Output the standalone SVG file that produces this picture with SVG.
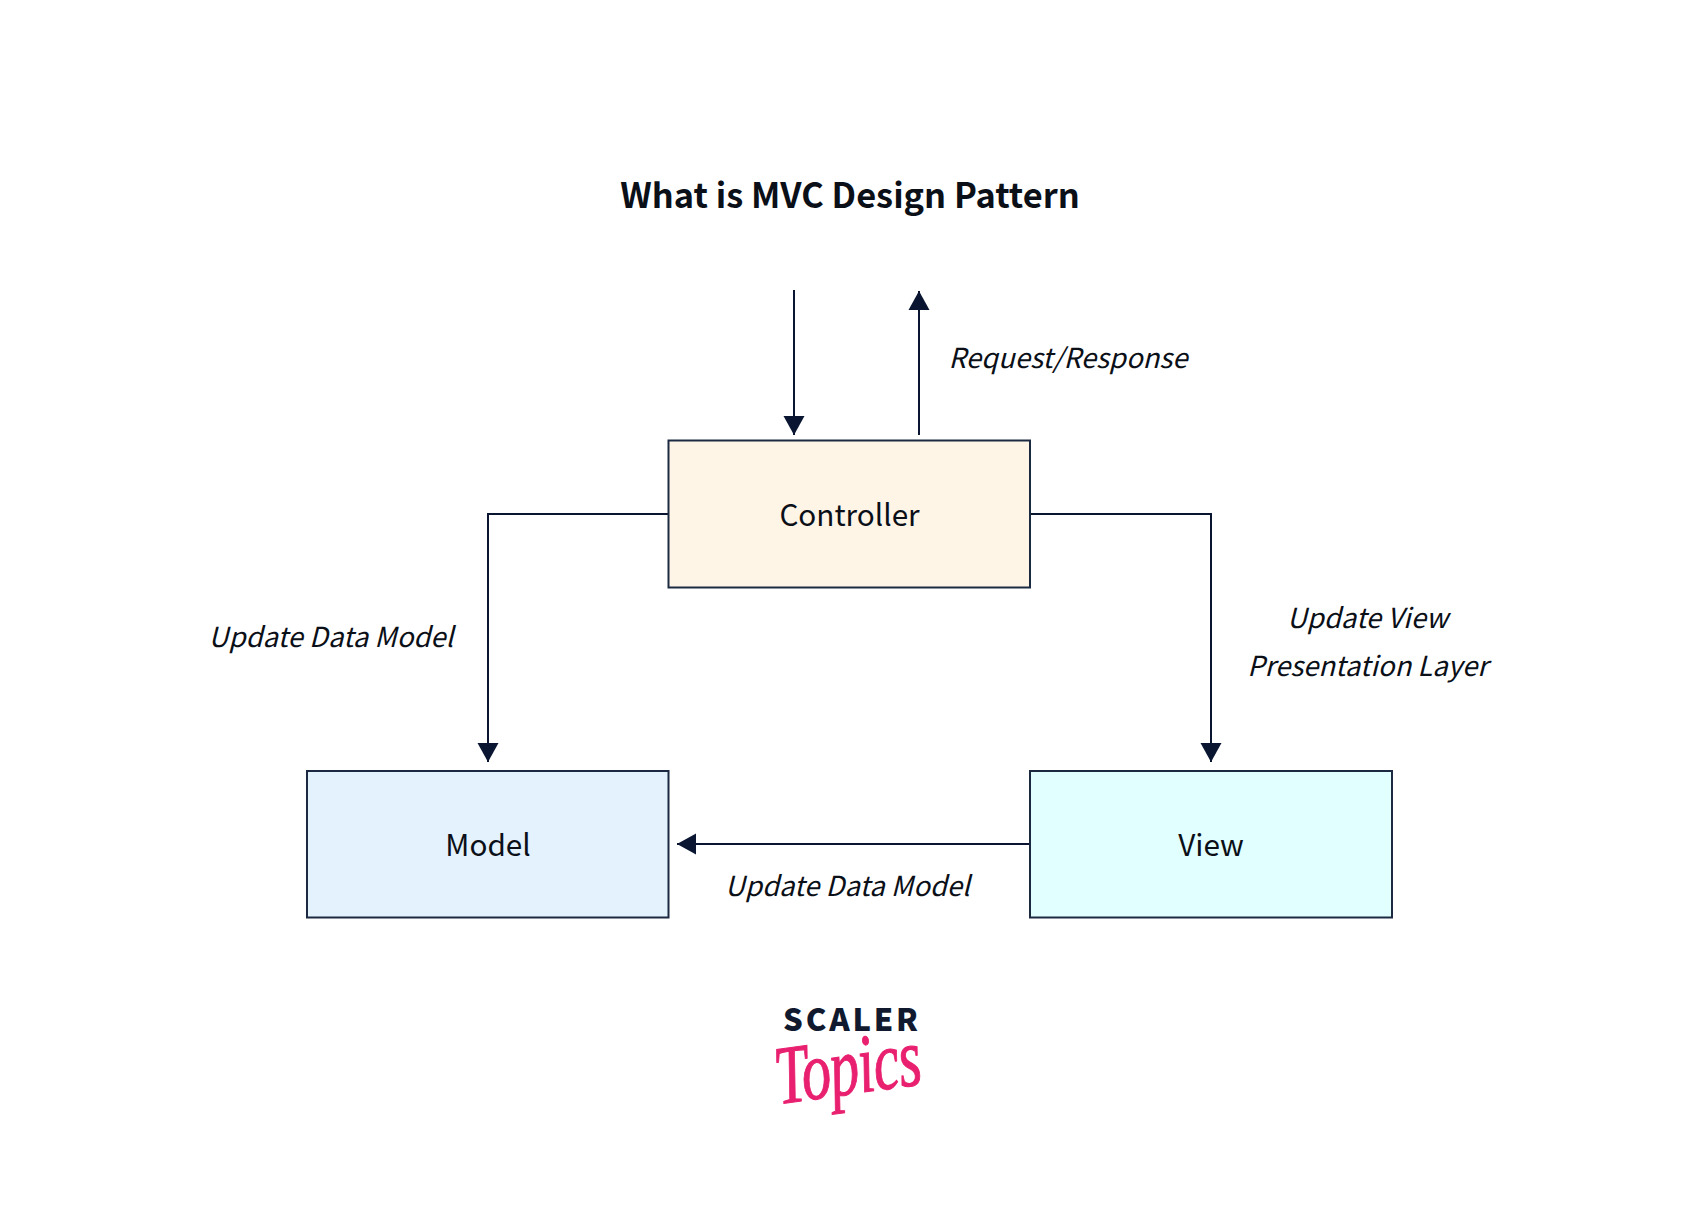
<svg xmlns="http://www.w3.org/2000/svg" width="1700" height="1225" viewBox="0 0 1700 1225">
<style>
text{font-family:"Noto Sans CJK SC","Noto Sans",sans-serif;fill:#0b0f17;text-anchor:middle}
.title{font-size:34.400px;font-weight:700}
.node{font-size:29.700px}
.lbl{font-size:27.500px;font-style:italic}
.box{stroke:#1b2a41;stroke-width:2}
.conn{fill:none;stroke:#0a1631;stroke-width:2}
</style>
<defs>
<marker id="ah" markerUnits="userSpaceOnUse" markerWidth="24" markerHeight="24" refX="19" refY="12" orient="auto">
<path d="M0 1.500L19 12L0 22.500Z" fill="#0a1631"/>
</marker>
</defs>
<rect width="1700" height="1225" fill="#fff"/>
<text class="title" x="850" y="208">What is MVC Design Pattern</text>
<g id="connectors">
<path class="conn" marker-end="url(#ah)" d="M794 290V435"/>
<path class="conn" marker-end="url(#ah)" d="M919 435V291"/>
<path class="conn" marker-end="url(#ah)" d="M668 514H488V762"/>
<path class="conn" marker-end="url(#ah)" d="M1030 514H1211V762"/>
<path class="conn" marker-end="url(#ah)" d="M1030 844H677"/>
</g>
<g id="controller"><rect class="box" x="668.500" y="440.500" width="361.500" height="147" fill="#fef5e7"/><text class="node" x="849.500" y="526">Controller</text></g>
<g id="model"><rect class="box" x="307" y="771" width="361.500" height="146.500" fill="#e3f2fd"/><text class="node" x="488" y="856">Model</text></g>
<g id="view"><rect class="box" x="1030" y="771" width="362" height="146.500" fill="#e2ffff"/><text class="node" x="1211" y="856">View</text></g>
<g id="labels">
<text class="lbl" x="1068" y="368">Request/Response</text>
<text class="lbl" x="331" y="647">Update Data Model</text>
<text class="lbl" x="1367.500" y="628">Update View</text>
<text class="lbl" x="1367.500" y="676">Presentation Layer</text>
<text class="lbl" x="847.500" y="896">Update Data Model</text>
</g>
<g id="logo">
<text x="852" y="1031" style="font-size:31px;font-weight:900;letter-spacing:2.800px;fill:#10192e">SCALER</text>
<text transform="translate(851 1094) rotate(-8) scale(.92 1.3)" style="font-family:'Liberation Serif',serif;font-style:italic;font-size:64px;fill:#e8206f;stroke:#e8206f;stroke-width:.8;letter-spacing:-1px">Topics</text>
</g>
</svg>
